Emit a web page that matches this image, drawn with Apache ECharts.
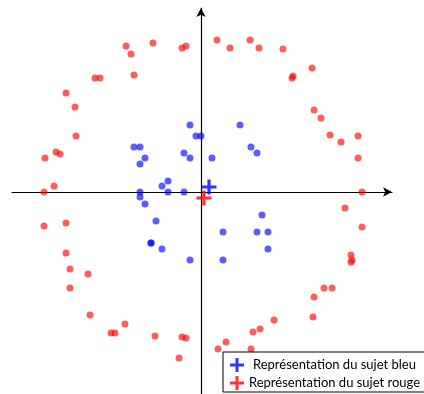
<!DOCTYPE html>
<html>
<head>
<meta charset="utf-8">
<script src="https://cdn.jsdelivr.net/npm/echarts@6/dist/echarts.min.js"></script>
<style>
  html, body { margin: 0; padding: 0; background: #fff; }
  #chart { width: 424px; height: 394px; }
</style>
</head>
<body>
<div id="chart"></div>
<script>
// points, origin at the axes crossing
const redPoints = [
  [-75,146],[-48,149],[-70,138],[-19,144],[-15,146],[-106,114],[-101,114],[-67,117],
  [-135,99],[-126,85],[-125,56],[-145,40],[-141,38],[-156,34],[-147,6],[-157,0],
  [16,152],[29,144],[49,152],[58,144],[82,143],[111,124],[91,114],[92,116],
  [113,82],[120,74],[129,57],[140,50],[157,56],[157,34],[161,0],
  [-157,-34],[-135,-31],[-135,-61],[-131,-77],[-113,-82],[-131,-96],[-111,-123],
  [-76,-132],[-90,-141],[-86,-141],[-46,-144],[-19,-145],[-15,-146],[-22,-166],
  [144,-16],[161,-35],[150,-63],[151,-68],[150,-70],[123,-96],[131,-96],[113,-105],
  [112,-125],[73,-128],[52,-140],[59,-137],[25,-150],[17,-157],[50,-157]
]
const bluePoints = [
  [-11,67],[-5,56],[0,56],[-67,45],[-61,45],[-17,39],[-11,34],[-56,34],[-61,28],
  [-33,11],[-39,6],[-33,0],[-17,0],[-61,0],[-61,-5],[11,34],[39,67],[50,45],[56,39],
  [-56,-12],[-45,-29],[-50,-51],[-50,-51],[-39,-57],[-11,-68],
  [61,-23],[22,-40],[56,-40],[67,-40],[67,-57],[22,-68]
]
const blueMean = [[8,5]]
const redMean = [[3,-6]]
const legendNames = ['Représentation du sujet bleu', 'Représentation du sujet rouge']

const plus = 'path://M-1.5,-7H1.5V-1.5H7V1.5H1.5V7H-1.5V1.5H-7V-1.5H-1.5Z'

const chart = echarts.init(document.getElementById('chart'))
chart.setOption({
  animation: false,
  grid: {left: 12, right: 32, top: 8, bottom: 0},
  xAxis: {
    type: 'value', min: -189, max: 191,
    axisLine: {onZero: true, symbol: ['none', 'arrow'], symbolSize: [7, 9],
      lineStyle: {color: '#000', width: 1.2}},
    axisTick: {show: false}, axisLabel: {show: false}, splitLine: {show: false}
  },
  yAxis: {
    type: 'value', min: -202, max: 184,
    axisLine: {onZero: true, symbol: ['none', 'arrow'], symbolSize: [7, 9],
      lineStyle: {color: '#000', width: 1.2}},
    axisTick: {show: false}, axisLabel: {show: false}, splitLine: {show: false}
  },
  legend: {
    orient: 'vertical',
    left: 223, top: 352,
    padding: [6, 8, 2, 7],
    itemWidth: 14, itemHeight: 14, itemGap: 4,
    borderColor: '#000', borderWidth: 1, borderRadius: 0,
    backgroundColor: '#fff',
    textStyle: {fontFamily: 'Lato', fontSize: 13, color: '#000'},
    data: [
      {name: legendNames[0], icon: plus, textStyle: {padding: [0, 0, 0, 4]}},
      {name: legendNames[1], icon: plus}
    ]
  },
  series: [
    {
      type: 'scatter', data: redPoints, symbolSize: 7,
      itemStyle: {color: 'rgba(255,0,0,0.8)'}
    },
    {
      type: 'scatter', data: bluePoints, symbolSize: 7,
      itemStyle: {color: 'rgba(0,0,255,0.8)'}
    },
    {
      name: legendNames[0], type: 'scatter', data: blueMean,
      symbol: plus, symbolSize: 15, itemStyle: {color: '#0000ff'}, z: 5
    },
    {
      name: legendNames[1], type: 'scatter', data: redMean,
      symbol: plus, symbolSize: 15, itemStyle: {color: '#ff0000'}, z: 5
    }
  ]
})
</script>
</body>
</html>
